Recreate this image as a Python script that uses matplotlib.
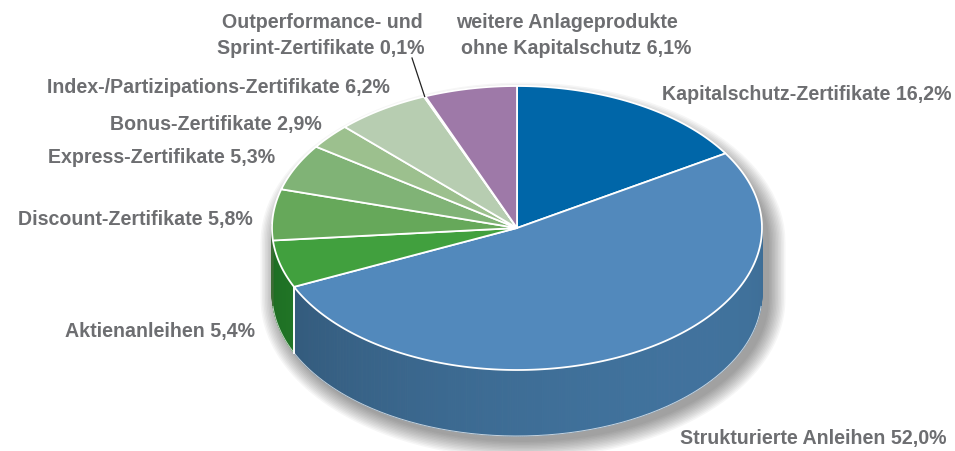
import numpy as np
import matplotlib
matplotlib.use("Agg")
import matplotlib.pyplot as plt
from matplotlib.patches import Polygon
from matplotlib.colors import to_rgb

plt.rcParams['font.family'] = ['Liberation Sans Narrow', 'Liberation Sans', 'DejaVu Sans']

# ---- data ----
categories = ["Kapitalschutz-Zertifikate", "Strukturierte Anleihen", "Aktienanleihen",
              "Discount-Zertifikate", "Express-Zertifikate", "Bonus-Zertifikate",
              "Index-/Partizipations-Zertifikate", "Outperformance- und Sprint-Zertifikate",
              "weitere Anlageprodukte ohne Kapitalschutz"]
shares = [16.2, 52.0, 5.4, 5.8, 5.3, 2.9, 6.2, 0.1, 6.1]
labels = ["Kapitalschutz-Zertifikate 16,2%", "Strukturierte Anleihen 52,0%", "Aktienanleihen 5,4%",
          "Discount-Zertifikate 5,8%", "Express-Zertifikate 5,3%", "Bonus-Zertifikate 2,9%",
          "Index-/Partizipations-Zertifikate 6,2%",
          "Outperformance- und\nSprint-Zertifikate 0,1%",
          "weitere Anlageprodukte\nohne Kapitalschutz 6,1%"]
colors = ["#0066a8", "#5289bc", "#41a03e", "#66a85a", "#80b376", "#9cc08e",
          "#b7cdb1", "#e4ebe2", "#9e79a8"]
side_colors = ["#004f82", "#3d6c94", "#268a2d", "#4d8a44", "#63945a", "#7da070",
               "#93ab8c", "#c0c8be", "#7d5e86"]

# ---- layout (pixel space) ----
W, H = 955, 451
cx, cy, rx, ry, depth = 517, 228, 245, 142, 66
txt_color = "#6d6e71"
fs = 14.15

fig = plt.figure(figsize=(W / 100, H / 100), dpi=100)
ax = fig.add_axes([0, 0, 1, 1])
ax.set_xlim(0, W)
ax.set_ylim(H, 0)
ax.axis("off")


def pt(theta, dy=0.0, grow=0.0):
    t = np.radians(theta)
    return cx + (rx + grow) * np.cos(t), cy - (ry + grow) * np.sin(t) + dy


# soft shadow (cylinder silhouette, offset to lower right)
for k in range(12):
    g = 1 + k * 1.5
    up = [pt(t, 14, g) for t in np.linspace(0, 180, 60)]
    lo = [pt(t, depth + 5, g) for t in np.linspace(180, 360, 90)]
    poly = [(x + 6, y) for x, y in up + lo]
    ax.add_patch(Polygon(poly, closed=True, facecolor="#000000", alpha=0.035,
                         edgecolor="none", zorder=1))

# angles (clockwise from 12 o'clock)
total = sum(shares)
spans = [360.0 * s / total for s in shares]
starts = []
a = 90.0
for sp in spans:
    starts.append(a)
    a -= sp

# walls
for i, (a0, sp) in enumerate(zip(starts, spans)):
    a1 = a0 - sp
    n = max(int(sp * 2), 2)
    th = np.linspace(a0, a1, n + 1)
    base = np.array(to_rgb(side_colors[i]))
    for j in range(n):
        ta, tb = th[j], th[j + 1]
        if np.sin(np.radians(ta)) > 0.02 and np.sin(np.radians(tb)) > 0.02:
            continue
        tm = 0.5 * (ta + tb)
        f = 1.0 + 0.16 * np.cos(np.radians(tm - 315)) - 0.1
        c = np.clip(base * f, 0, 1)
        seg = np.linspace(ta, tb, 4)
        top = [pt(t) for t in seg]
        bot = [pt(t, depth) for t in seg[::-1]]
        ax.add_patch(Polygon(top + bot, closed=True, facecolor=c, edgecolor=c,
                             linewidth=0.6, zorder=2))
    # white vertical seam at visible wedge boundary
    for t in (a0, a1):
        if np.sin(np.radians(t)) < -0.2:
            x0, y0 = pt(t)
            ax.plot([x0, x0], [y0, y0 + depth], color="white", lw=1.2, zorder=3)

# front bottom rim highlight
th = np.linspace(185, 355, 200)
xs, ys = zip(*[pt(t, depth) for t in th])
ax.plot(xs, ys, color="white", lw=0.7, alpha=0.7, zorder=3)

# top faces
for i, (a0, sp) in enumerate(zip(starts, spans)):
    a1 = a0 - sp
    n = max(int(sp * 2), 2)
    th = np.linspace(a0, a1, n + 1)
    poly = [(cx, cy)] + [pt(t) for t in th]
    ax.add_patch(Polygon(poly, closed=True, facecolor=colors[i], edgecolor="white",
                         linewidth=1.3, joinstyle="round", zorder=4))


def lab(s, x, y, ha):
    ax.text(x, y, s, ha=ha, va="baseline", fontsize=fs, fontweight="bold",
            color=txt_color, zorder=6)


lab(labels[0], 662, 100, "left")
lab(labels[1], 680, 444, "left")
lab(labels[2], 255, 337, "right")
lab(labels[3], 253, 225, "right")
lab(labels[4], 275, 163, "right")
lab(labels[5], 322, 130, "right")
lab(labels[6], 390, 93, "right")
l7 = labels[7].split("\n")
lab(l7[0], 423, 28, "right")
lab(l7[1], 424, 54, "right")
l8 = labels[8].split("\n")
lab(l8[0], 456, 28, "left")
lab(l8[1], 461, 54, "left")

# leader line for the tiny slice
mid7 = starts[7] - spans[7] / 2
lx, ly = pt(mid7)
ax.plot([412, lx], [58, ly], color="#222222", lw=0.9, zorder=5)

fig.savefig("out.png", dpi=100, facecolor="white")
